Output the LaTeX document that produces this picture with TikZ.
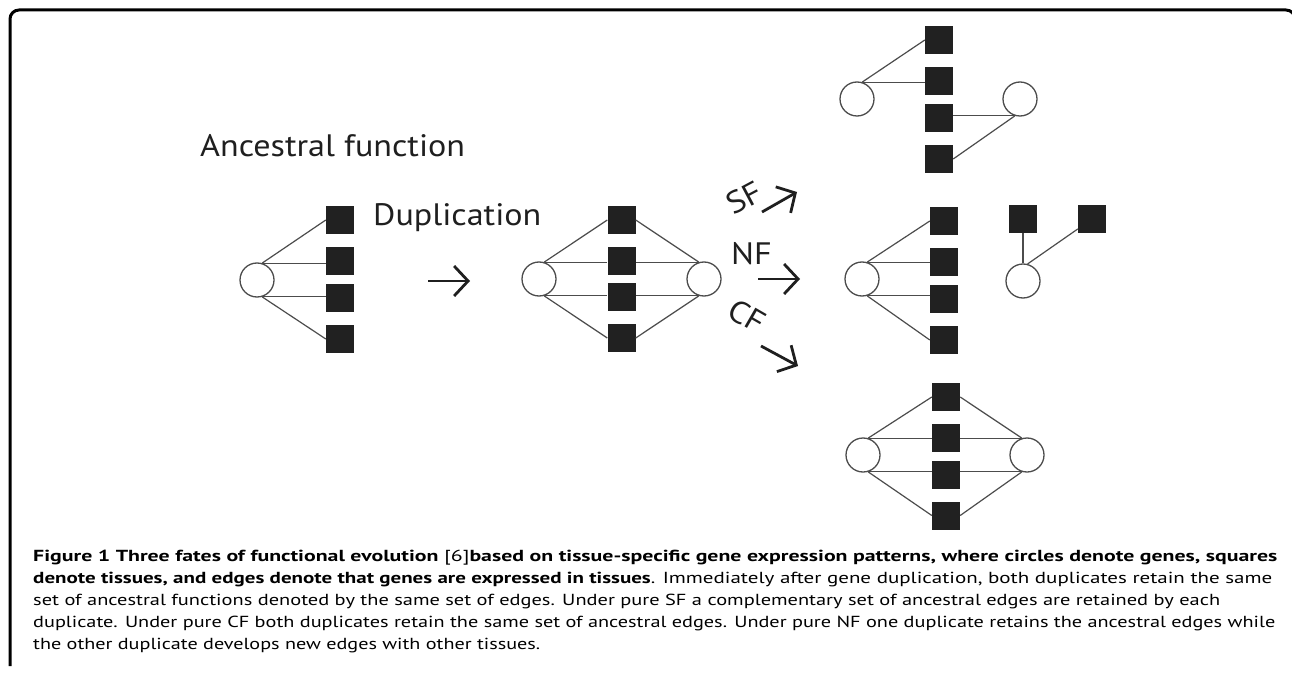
\documentclass[tikz,border=0pt]{standalone}
\usepackage{fontspec}
\setmainfont{PT Sans}
\newfontfamily\figfont{PT Sans}[FakeStretch=1.10]
\usetikzlibrary{arrows.meta}

\newlength{\du}
\setlength{\du}{1pt}
% caption lines are set to the width they have in print
\newcommand{\capline}[2]{\resizebox{#1\du}{\height}{#2}}

\definecolor{framecolor}{rgb}{0.000000, 0.000000, 0.000000}
\definecolor{linecolor}{rgb}{0.300000, 0.300000, 0.300000}
\definecolor{tissuecolor}{rgb}{0.130000, 0.130000, 0.130000}
\definecolor{inkcolor}{rgb}{0.120000, 0.120000, 0.120000}

\tikzset{
  gene/.style={circle,draw=linecolor,line width=1.3\du,minimum size=34\du,inner sep=0pt},
  tissue/.style={rectangle,fill=tissuecolor,minimum size=28\du,inner sep=0pt},
  expline/.style={draw=linecolor,line width=1.2\du},
  fatearrow/.style={draw=inkcolor,line width=2.8\du,-{Straight Barb[length=14pt,width=30pt]}},
  bigtext/.style={inner sep=0pt,text=inkcolor,font=\figfont\fontsize{31}{36}\selectfont},
  captext/.style={inner sep=0pt,anchor=base west,font=\fontsize{16}{18}\selectfont},
}

\begin{document}
\begin{tikzpicture}[yscale=-1]
\useasboundingbox (0\du,0\du) rectangle (1292\du,676\du);
% box round the figure
\draw[framecolor,line width=3\du,rounded corners=9\du] (10\du,666\du) -- (10\du,10\du) -- (1295\du,10\du) -- (1295\du,60\du);
% ancestral function
\node[bigtext,anchor=base west] (anctext) at (200\du,157\du) {Ancestral function};
\node[gene] (anc) at (257\du,280\du) {};
\node[tissue] (anct1) at (340\du,220\du) {};
\node[tissue] (anct2) at (340\du,261\du) {};
\node[tissue] (anct3) at (340\du,298\du) {};
\node[tissue] (anct4) at (340\du,339\du) {};
\draw[expline] (anc.73) -- (anct1.west);
\draw[expline] (anc.73) -- (anc.73 -| anct2.west);
\draw[expline] (anc.-73) -- (anc.-73 -| anct3.west);
\draw[expline] (anc.-73) -- (anct4.west);
% duplication
\node[bigtext,anchor=base west] (duptext) at (373\du,226\du) {Duplication};
\coordinate (dupfrom) at (428\du,281\du);
\coordinate (dupto) at (470\du,281\du);
\draw[fatearrow] (dupfrom) -- (dupto);
\node[gene] (dupl) at (539\du,279\du) {};
\node[gene] (dupr) at (704\du,279\du) {};
\node[tissue] (dupt1) at (621.5\du,220\du) {};
\node[tissue] (dupt2) at (621.5\du,261\du) {};
\node[tissue] (dupt3) at (621.5\du,297\du) {};
\node[tissue] (dupt4) at (621.5\du,338\du) {};
\draw[expline] (dupl.73) -- (dupt1.west);
\draw[expline] (dupl.73) -- (dupl.73 -| dupt2.west);
\draw[expline] (dupl.-73) -- (dupl.-73 -| dupt3.west);
\draw[expline] (dupl.-73) -- (dupt4.west);
\draw[expline] (dupr.107) -- (dupt1.east);
\draw[expline] (dupr.107) -- (dupr.107 -| dupt2.east);
\draw[expline] (dupr.253) -- (dupr.253 -| dupt3.east);
\draw[expline] (dupr.253) -- (dupt4.east);
% the three fates
\node[bigtext,rotate=28] (sftext) at (744\du,198\du) {SF};
\node[bigtext,anchor=base west] (nftext) at (731\du,265\du) {NF};
\node[bigtext,rotate=-30] (cftext) at (747\du,316\du) {CF};
\coordinate (sffrom) at (762\du,212\du);
\coordinate (sfto) at (797\du,192\du);
\coordinate (nffrom) at (758\du,279\du);
\coordinate (nfto) at (800\du,279\du);
\coordinate (cffrom) at (761\du,346\du);
\coordinate (cfto) at (798\du,366\du);
\draw[fatearrow] (sffrom) -- (sfto);
\draw[fatearrow] (nffrom) -- (nfto);
\draw[fatearrow] (cffrom) -- (cfto);
% SF
\node[gene] (sfl) at (857\du,99\du) {};
\node[gene] (sfr) at (1020\du,99\du) {};
\node[tissue] (sft1) at (939\du,40\du) {};
\node[tissue] (sft2) at (939\du,81\du) {};
\node[tissue] (sft3) at (939\du,118\du) {};
\node[tissue] (sft4) at (939\du,159\du) {};
\draw[expline] (sfl.73) -- (sft1.west);
\draw[expline] (sfl.73) -- (sfl.73 -| sft2.west);
\draw[expline] (sfr.253) -- (sfr.253 -| sft3.east);
\draw[expline] (sfr.253) -- (sft4.east);
% NF
\node[gene] (nfl) at (862\du,279\du) {};
\node[tissue] (nft1) at (944\du,221\du) {};
\node[tissue] (nft2) at (944\du,262\du) {};
\node[tissue] (nft3) at (944\du,299\du) {};
\node[tissue] (nft4) at (944\du,340\du) {};
\draw[expline] (nfl.73) -- (nft1.west);
\draw[expline] (nfl.73) -- (nfl.73 -| nft2.west);
\draw[expline] (nfl.-73) -- (nfl.-73 -| nft3.west);
\draw[expline] (nfl.-73) -- (nft4.west);
\node[gene] (nfnew) at (1023\du,281\du) {};
\node[tissue] (nfa) at (1023\du,219\du) {};
\node[tissue] (nfb) at (1092\du,219\du) {};
\draw[expline] (nfnew.north) -- (nfa.south);
\draw[expline] (nfnew.75) -- (nfb.215);
% CF
\node[gene] (cfl) at (863\du,455\du) {};
\node[gene] (cfr) at (1027\du,455\du) {};
\node[tissue] (cft1) at (946\du,397\du) {};
\node[tissue] (cft2) at (946\du,437.5\du) {};
\node[tissue] (cft3) at (946\du,474.5\du) {};
\node[tissue] (cft4) at (946\du,515.5\du) {};
\draw[expline] (cfl.73) -- (cft1.west);
\draw[expline] (cfl.73) -- (cfl.73 -| cft2.west);
\draw[expline] (cfl.-73) -- (cfl.-73 -| cft3.west);
\draw[expline] (cfl.-73) -- (cft4.west);
\draw[expline] (cfr.107) -- (cft1.east);
\draw[expline] (cfr.107) -- (cfr.107 -| cft2.east);
\draw[expline] (cfr.253) -- (cfr.253 -| cft3.east);
\draw[expline] (cfr.253) -- (cft4.east);
% caption
\node[captext] (capa) at (33\du,561\du) {\capline{1244}{\textbf{Figure 1 Three fates of functional evolution} [6]\textbf{based on tissue-specific gene expression patterns, where circles denote genes, squares}}};
\node[captext] (capb) at (33\du,583\du) {\capline{1239}{\textbf{denote tissues, and edges denote that genes are expressed in tissues}. Immediately after gene duplication, both duplicates retain the same}};
\node[captext] (capc) at (33\du,605\du) {\capline{1187}{set of ancestral functions denoted by the same set of edges. Under pure SF a complementary set of ancestral edges are retained by each}};
\node[captext] (capd) at (33\du,627\du) {\capline{1242}{duplicate. Under pure CF both duplicates retain the same set of ancestral edges. Under pure NF one duplicate retains the ancestral edges while}};
\node[captext] (cape) at (33\du,649\du) {\capline{507}{the other duplicate develops new edges with other tissues.}};
\end{tikzpicture}
\end{document}
